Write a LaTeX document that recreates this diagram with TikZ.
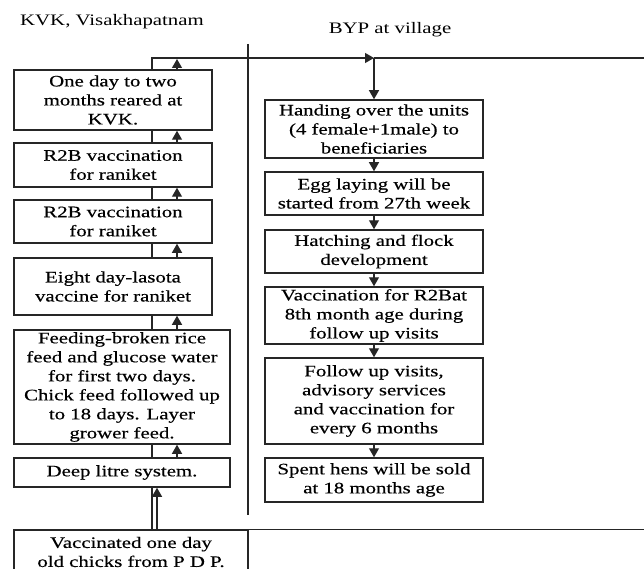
\documentclass[tikz,border=0pt]{standalone}
\usepackage{fontspec}
\setmainfont{Liberation Serif}[FakeStretch=1.3,FakeBold=0.4]
\newfontfamily\headfont{Liberation Serif}[FakeStretch=1.3]
\usetikzlibrary{arrows.meta}
\begin{document}
\begin{tikzpicture}[x=1pt,y=-1pt]
% Colors
\colorlet{linecolor}{black!85}
% Styles
\tikzstyle{stage}=[draw=linecolor,line width=1.5pt,rectangle,inner sep=0pt,align=center,font=\fontsize{16}{19}\selectfont]
\tikzstyle{flow}=[draw=linecolor,line width=1.2pt]
\tikzstyle{tip}=[-{Triangle[length=9pt,width=10pt]}]
\tikzstyle{heading}=[font=\headfont\fontsize{16}{19}\selectfont]
% The graphic
\clip (0,0) rectangle (644,569);
\node[heading] (kvk) at (112,22) {KVK, Visakhapatnam};
\node[heading] (byp) at (390,30) {BYP at village};
% Left column
\node[stage,minimum width=198pt,minimum height=60pt] (k1) at (113,100)
  {One day to two\\months reared at\\KVK.};
\node[stage,minimum width=198pt,minimum height=44pt] (k2) at (113,165)
  {R2B vaccination\\for raniket};
\node[stage,minimum width=198pt,minimum height=43pt] (k3) at (113,221.5)
  {R2B vaccination\\for raniket};
\node[stage,minimum width=198pt,minimum height=57pt] (k4) at (113,286.5)
  {Eight day-lasota\\vaccine for raniket};
\node[stage,minimum width=216pt,minimum height=114pt] (k5) at (122,387)
  {Feeding-broken rice\\feed and glucose water\\for first two days.\\Chick feed followed up\\to 18 days. Layer\\grower feed.};
\node[stage,minimum width=216pt,minimum height=29pt] (k6) at (122,472.5)
  {Deep litre system.};
\node[stage,minimum width=234pt,minimum height=44pt] (k7) at (131,552)
  {Vaccinated one day\\old chicks from P D P.};
% Right column
\node[stage,minimum width=218pt,minimum height=58pt] (r1) at (374,129)
  {Handing over the units\\(4 female+1male) to\\beneficiaries};
\node[stage,minimum width=218pt,minimum height=43pt] (r2) at (374,193.5)
  {Egg laying will be\\started from 27th week};
\node[stage,minimum width=218pt,minimum height=43pt] (r3) at (374,251.5)
  {Hatching and flock\\development};
\node[stage,minimum width=218pt,minimum height=57pt] (r4) at (374,315.5)
  {Vaccination for R2Bat\\8th month age during\\follow up visits};
\node[stage,minimum width=218pt,minimum height=86pt] (r5) at (374,401)
  {Follow up visits,\\advisory services\\and vaccination for\\every 6 months};
\node[stage,minimum width=218pt,minimum height=44pt] (r6) at (374,480)
  {Spent hens will be sold\\at 18 months age};
% Guide points
\coordinate (trunk) at (152,58);
\coordinate (rise) at (177,59);
\coordinate (rise2) at (157,0);
\coordinate (split) at (374,58);
\coordinate (end) at (644,58);
\coordinate (divtop) at (248,44);
\coordinate (divbot) at (248,515);
% Connectors
\draw[flow] (divtop) -- (divbot);
\draw[flow,tip] (k1.north -| trunk) |- (split);
\draw[flow] (split) -- (end);
\draw[flow,tip] (split) -- (r1.north);
\draw[flow,tip] (k1.north -| rise) -- (rise);
\foreach \a/\b in {k2/k1,k3/k2,k4/k3,k5/k4,k6/k5}
{
\draw[flow] (\a.north -| trunk) -- (\b.south -| trunk);
\draw[flow,tip] (\a.north -| rise) -- (\b.south -| rise);
}
\draw[flow] (k7.north -| trunk) -- (k6.south -| trunk);
\draw[flow,tip] (k7.north -| rise2) -- (k6.south -| rise2);
\foreach \a/\b in {r1/r2,r2/r3,r3/r4,r4/r5,r5/r6}
\draw[flow,tip] (\a.south) -- (\b.north);
\draw[flow] (k7.north east) -- (k7.north east -| end);
\end{tikzpicture}
\end{document}
